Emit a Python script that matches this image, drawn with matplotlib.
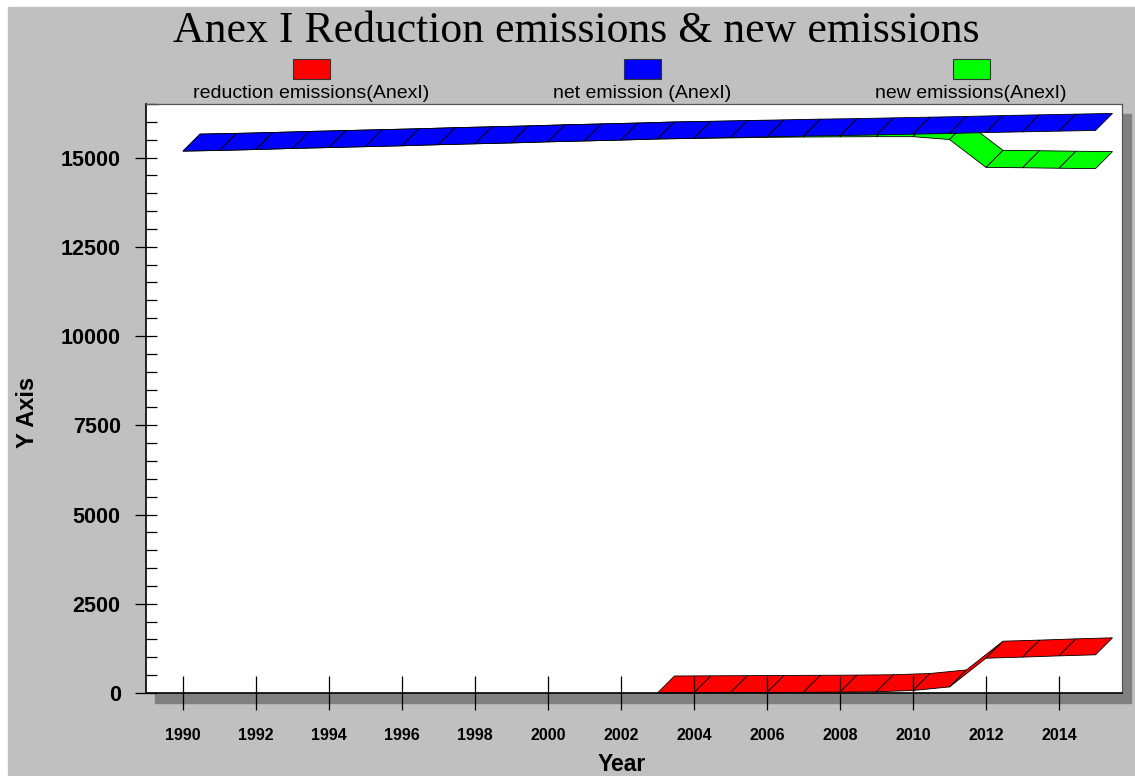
import numpy as np
import matplotlib
matplotlib.use("Agg")
import matplotlib.pyplot as plt
from matplotlib.patches import Polygon, Rectangle
from matplotlib.ticker import MultipleLocator

# data
years = list(range(1990, 2016))
net_emission = [15180, 15200, 15225, 15255, 15280, 15305, 15330, 15360, 15385, 15410,
                15440, 15465, 15490, 15520, 15540, 15560, 15580, 15600, 15615, 15635,
                15655, 15675, 15700, 15720, 15740, 15760]
new_emissions = [15180, 15200, 15225, 15255, 15280, 15305, 15330, 15360, 15385, 15410,
                 15440, 15465, 15490, 15520, 15535, 15550, 15565, 15575, 15580, 15585,
                 15585, 15505, 14725, 14715, 14700, 14690]
red_years = list(range(2003, 2016))
reduction_emissions = [0, 5, 10, 15, 20, 25, 35, 70, 170, 975, 1005, 1040, 1070]

labels = ["reduction emissions(AnexI)", "net emission (AnexI)", "new emissions(AnexI)"]
colors = ["#ff0000", "#0000ff", "#00ff00"]
xticks = list(range(1990, 2016, 2))

W, H = 1135, 776
fig = plt.figure(figsize=(W / 100, H / 100), dpi=100, facecolor="white")

# gray panel and the drop shadow of the plot box
fig.patches.append(Rectangle((8 / W, 1 - 775 / H), 1 - 8 / W, (775 - 7) / H,
                             transform=fig.transFigure, color="#c0c0c0", zorder=-3))
fig.patches.append(Rectangle((155 / W, 1 - 703 / H), 976 / W, 589 / H,
                             transform=fig.transFigure, color="#808080", zorder=-2))

ax = fig.add_axes([146 / W, 1 - 693 / H, 976 / W, 589 / H])
ax.set_facecolor("white")
ax.set_xlim(1990 - 37 / 36.5, 1990 + (1122 - 183) / 36.5)
ax.set_ylim(0, 16500)


def ribbon(xs, ys, color, depth=17):
    # fake 3d ribbon: front edge on the data, back edge shifted up-right in pixels
    front = ax.transData.transform(np.column_stack([xs, ys]))
    back = front + depth
    inv = ax.transData.inverted()
    for i in range(len(xs) - 1):
        quad = np.array([front[i], front[i + 1], back[i + 1], back[i]])
        ax.add_patch(Polygon(inv.transform(quad), closed=True, facecolor=color,
                             edgecolor="black", lw=0.6, clip_on=False))


ribbon(red_years, reduction_emissions, colors[0])
ribbon(years, new_emissions, colors[2])
ribbon(years, net_emission, colors[1])

ax.set_xticks(xticks)
ax.set_xticklabels([str(y) for y in xticks])
ax.yaxis.set_major_locator(MultipleLocator(2500))
ax.yaxis.set_minor_locator(MultipleLocator(500))
ax.tick_params(axis="y", which="major", direction="inout", length=16.5, width=0.9,
               labelsize=15.5, pad=10)
ax.tick_params(axis="y", which="minor", direction="in", length=8, width=0.9)
ax.tick_params(axis="x", which="major", direction="inout", length=25, width=0.9,
               labelsize=11.5, pad=13)
for lab in ax.get_xticklabels() + ax.get_yticklabels():
    lab.set_fontfamily("Liberation Sans")
    lab.set_fontweight("bold")

for s in ["left", "bottom"]:
    ax.spines[s].set_color("black")
    ax.spines[s].set_linewidth(1.2)
for s in ["top", "right"]:
    ax.spines[s].set_color("#555555")
    ax.spines[s].set_linewidth(0.9)

fig.text(576 / W, 1 - 42 / H, "Anex I Reduction emissions & new emissions",
         family="Liberation Serif", fontsize=31.5, ha="center", va="baseline")

# legend: colour box above its label
centers = [311, 642, 971]
for c, name, col in zip(centers, labels, colors):
    fig.patches.append(Rectangle(((c - 18.5) / W, 1 - 79 / H), 37 / W, 20 / H,
                                 transform=fig.transFigure, facecolor=col,
                                 edgecolor="#333333", lw=0.8))
    fig.text(c / W, 1 - 98 / H, name, family="Liberation Sans", fontsize=14,
             ha="center", va="baseline")

fig.text(622 / W, 1 - 771 / H, "Year", family="Liberation Sans", fontweight="bold",
         fontsize=16.5, ha="center", va="baseline")
fig.text(28 / W, 1 - 412 / H, "Y Axis", family="Liberation Sans", fontweight="bold",
         fontsize=17, ha="center", va="center", rotation=90)

fig.savefig("out.png", dpi=100, facecolor=fig.get_facecolor())
